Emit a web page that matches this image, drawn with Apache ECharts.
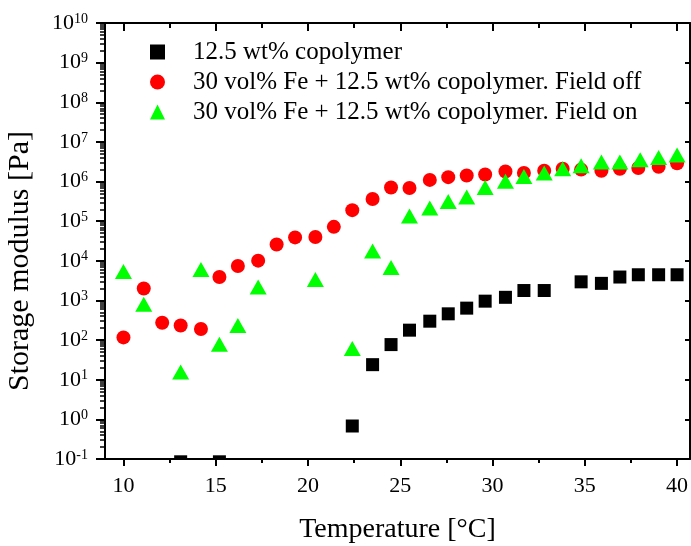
<!DOCTYPE html>
<html><head><meta charset="utf-8">
<script src="https://cdn.jsdelivr.net/npm/echarts@6/dist/echarts.min.js"></script>
<style>html,body{margin:0;padding:0;background:#fff}#c{width:691px;height:546px}</style>
</head><body><div id="c"></div>
<script>
// ---- data ----
const seriesNames = ['12.5 wt% copolymer', '30 vol% Fe + 12.5 wt% copolymer. Field off', '30 vol% Fe + 12.5 wt% copolymer. Field on'];
const blackT = [13.1, 15.2, 22.4, 23.5, 24.5, 25.5, 26.6, 27.6, 28.6, 29.6, 30.7, 31.7, 32.8, 34.8, 35.9, 36.9, 37.9, 39.0, 40.0];
const blackV = [0.085, 0.085, 0.68, 24, 77, 178, 300, 460, 640, 960, 1200, 1780, 1780, 2950, 2700, 3900, 4450, 4450, 4450];
const redT = [10, 11.1, 12.1, 13.1, 14.2, 15.2, 16.2, 17.3, 18.3, 19.3, 20.4, 21.4, 22.4, 23.5, 24.5, 25.5, 26.6, 27.6, 28.6, 29.6, 30.7, 31.7, 32.8, 33.8, 34.8, 35.9, 36.9, 37.9, 39.0, 40.0];
const redV = [117, 2000, 275, 234, 190, 3900, 7400, 10100, 25700, 39000, 40000, 72000, 190000, 363000, 710000, 690000, 1.1e6, 1.29e6, 1.42e6, 1.5e6, 1.8e6, 1.65e6, 1.87e6, 2.1e6, 2.0e6, 1.87e6, 2.1e6, 2.2e6, 2.35e6, 2.9e6];
const greenT = [10, 11.1, 13.1, 14.2, 15.2, 16.2, 17.3, 20.4, 22.4, 23.5, 24.5, 25.5, 26.6, 27.6, 28.6, 29.6, 30.7, 31.7, 32.8, 33.8, 34.8, 35.9, 36.9, 38.0, 39.0, 40.0];
const greenV = [5400, 800, 15.7, 6000, 78, 235, 2200, 3400, 61, 17700, 6800, 135000, 215000, 316000, 410000, 710000, 1.01e6, 1.35e6, 1.64e6, 2.1e6, 2.5e6, 3.1e6, 3.1e6, 3.55e6, 4.05e6, 4.7e6];
const xMajorTicks = [10, 15, 20, 25, 30, 35, 40];
const xMinorTicks = [12.5, 17.5, 22.5, 27.5, 32.5, 37.5];
const yExponents = [-1, 0, 1, 2, 3, 4, 5, 6, 7, 8, 9, 10];
const xTitle = 'Temperature [°C]';
const yTitle = 'Storage modulus [Pa]';

// ---- chart ----
const FONT = 'Liberation Serif';
const zip = (a, b) => a.map((t, i) => [t, b[i]]);
const yMinorLog = [];
yExponents.slice(0, -1).forEach(e => { for (let k = 2; k <= 9; k++) yMinorLog.push(e + Math.log10(k)); });
const yMajorLog = yExponents.slice();

const line = {show: true, onZero: false, lineStyle: {color: '#000', width: 2}};
const noLine = {show: false, onZero: false};
const chart = echarts.init(document.getElementById('c'));
chart.setOption({
  animation: false,
  backgroundColor: '#fff',
  grid: {left: 105, right: 1, top: 23, bottom: 87, containLabel: false, outerBoundsMode: 'none'},
  legend: {
    orient: 'vertical', left: 150, top: 37, padding: 0, itemGap: 0,
    itemWidth: 15, itemHeight: 15,
    formatter: n => '{sp|}' + n,
    textStyle: {fontFamily: FONT, fontSize: 25, color: '#000', lineHeight: 30,
      rich: {sp: {width: 23}}},
    data: [{name: seriesNames[0], icon: 'rect'}, {name: seriesNames[1], icon: 'circle'}, {name: seriesNames[2], icon: 'triangle'}]
  },
  xAxis: [
    {type: 'value', position: 'bottom', min: 9, max: 40.7, axisLine: line, splitLine: {show: false},
     axisTick: {show: true, inside: false, length: 7, lineStyle: {width: 2, color: '#000'}, customValues: xMajorTicks},
     axisLabel: {customValues: xMajorTicks, margin: 16, fontFamily: FONT, fontSize: 22, color: '#000'},
     name: xTitle, nameLocation: 'middle', nameGap: 57, nameTextStyle: {fontFamily: FONT, fontSize: 28, color: '#000'}},
    {type: 'value', position: 'bottom', min: 9, max: 40.7, axisLine: noLine, splitLine: {show: false},
     axisTick: {show: true, inside: false, length: 4, lineStyle: {width: 2, color: '#000'}, customValues: xMinorTicks},
     axisLabel: {show: false}},
    {type: 'value', position: 'top', min: 9, max: 40.7, axisLine: line, splitLine: {show: false},
     axisTick: {show: true, inside: true, length: 8, lineStyle: {width: 2, color: '#000'}, customValues: xMajorTicks},
     axisLabel: {show: false}},
    {type: 'value', position: 'top', min: 9, max: 40.7, axisLine: noLine, splitLine: {show: false},
     axisTick: {show: true, inside: true, length: 5, lineStyle: {width: 2, color: '#000'}, customValues: xMinorTicks},
     axisLabel: {show: false}}
  ],
  yAxis: [
    {type: 'log', logBase: 10, min: 0.1, max: 1e10, position: 'left', axisLine: noLine, splitLine: {show: false},
     axisTick: {show: false}, axisLabel: {show: false},
     name: yTitle, nameLocation: 'middle', nameGap: 70,
     nameTextStyle: {fontFamily: FONT, fontSize: 30, color: '#000', padding: [0, 40, 0, 0]}},
    {type: 'value', min: -1, max: 10, position: 'left', axisLine: line, splitLine: {show: false},
     axisTick: {show: true, inside: false, length: 9, lineStyle: {width: 2, color: '#000'}, customValues: yMajorLog},
     axisLabel: {customValues: yMajorLog, margin: 17, fontFamily: FONT, color: '#000',
       formatter: v => '{b|10}{s|' + Math.round(v) + '}',
       rich: {b: {fontFamily: FONT, fontSize: 22, lineHeight: 22, verticalAlign: 'bottom', color: '#000'},
              s: {fontFamily: FONT, fontSize: 14, lineHeight: 14, verticalAlign: 'top', color: '#000'}}}},
    {type: 'value', min: -1, max: 10, position: 'left', axisLine: noLine, splitLine: {show: false},
     axisTick: {show: true, inside: false, length: 5, lineStyle: {width: 1.5, color: '#000'}, customValues: yMinorLog},
     axisLabel: {show: false}},
    {type: 'value', min: -1, max: 10, position: 'right', axisLine: line, splitLine: {show: false},
     axisTick: {show: true, inside: true, length: 5, lineStyle: {width: 2, color: '#000'}, customValues: yMajorLog},
     axisLabel: {show: false}}
  ],
  series: [
    {name: seriesNames[0], type: 'custom', xAxisIndex: 0, yAxisIndex: 0, clip: true,
     itemStyle: {color: '#000'},
     data: zip(blackT, blackV),
     renderItem: (params, api) => {
       const p = api.coord([api.value(0), api.value(1)]);
       return {type: 'rect', shape: {x: p[0] - 6.5, y: p[1] - 6.5, width: 13, height: 13}, style: {fill: '#000'}};
     }},
    {name: seriesNames[1], type: 'scatter', xAxisIndex: 0, yAxisIndex: 0, symbol: 'circle', symbolSize: 14,
     itemStyle: {color: '#ff0000', opacity: 1}, data: zip(redT, redV)},
    {name: seriesNames[2], type: 'scatter', xAxisIndex: 0, yAxisIndex: 0, symbol: 'triangle', symbolSize: [17, 15],
     itemStyle: {color: '#00ff00', opacity: 1}, data: zip(greenT, greenV)}
  ]
});
</script></body></html>
